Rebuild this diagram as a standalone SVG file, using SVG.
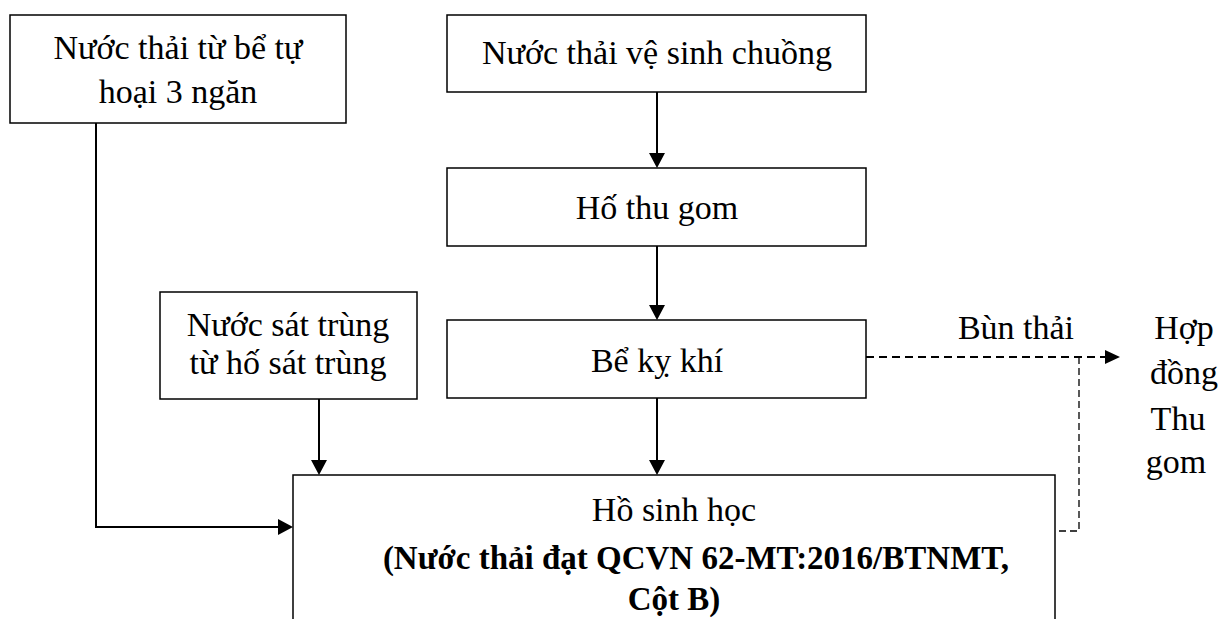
<svg xmlns="http://www.w3.org/2000/svg" width="1232" height="619" viewBox="0 0 1232 619">
<style>
.box{fill:#fff;stroke:#000;stroke-width:1.5}
.t{font-family:"Liberation Serif","Times New Roman",serif;font-size:34px;fill:#000;text-anchor:middle}
.b{font-weight:bold;font-size:33px}
.ln{fill:none;stroke:#000;stroke-width:2}
.d{fill:none;stroke:#000;stroke-width:2;stroke-dasharray:8,5}
.d2{fill:none;stroke:#000;stroke-width:1.3;stroke-dasharray:7,4}
</style>
<g id="connectors">
<path class="ln" d="M96,123 V527 H282" />
<path d="M278,519 L293,527 L278,535 z" fill="#000"/>
<path class="ln" d="M657,92 V155" />
<path d="M649,153 L657,168 L665,153 z" fill="#000"/>
<path class="ln" d="M657,246 V307" />
<path d="M649,305 L657,320 L665,305 z" fill="#000"/>
<path class="ln" d="M319,399 V462" />
<path d="M311,460 L319,475 L327,460 z" fill="#000"/>
<path class="ln" d="M657,398 V462" />
<path d="M649,460 L657,475 L665,460 z" fill="#000"/>
<path class="d" d="M866,357 H1106" />
<path d="M1105,350 L1120,357 L1105,364 z" fill="#000"/>
<path class="d2" d="M1079,357 V531 H1055" />
</g>
<g id="n1">
<rect class="box" x="10" y="15" width="336" height="108"/>
<text class="t" x="178" y="59">Nước thải từ bể tự</text>
<text class="t" x="178" y="103">hoại 3 ngăn</text>
</g>
<g id="n2">
<rect class="box" x="447" y="15" width="419" height="77"/>
<text class="t" x="657" y="64">Nước thải vệ sinh chuồng</text>
</g>
<g id="n3">
<rect class="box" x="447" y="168" width="419" height="78"/>
<text class="t" x="657" y="219">Hố thu gom</text>
</g>
<g id="n4">
<rect class="box" x="447" y="320" width="419" height="78"/>
<text class="t" x="657" y="372">Bể kỵ khí</text>
</g>
<g id="n5">
<rect class="box" x="160" y="292" width="257" height="107"/>
<text class="t" x="288" y="336">Nước sát trùng</text>
<text class="t" x="288" y="374">từ hố sát trùng</text>
</g>
<g id="n6">
<rect class="box" x="293" y="475" width="762" height="160"/>
<text class="t" x="674" y="521">Hồ sinh học</text>
<text class="t b" x="696" y="569">(Nước thải đạt QCVN 62-MT:2016/BTNMT,</text>
<text class="t b" x="674" y="610">Cột B)</text>
</g>
<g id="labels">
<text class="t" x="1016" y="339">Bùn thải</text>
</g>
<g id="n7">
<text class="t" x="1184" y="339">Hợp</text>
<text class="t" x="1184" y="384">đồng</text>
<text class="t" x="1178" y="430">Thu</text>
<text class="t" x="1176" y="473">gom</text>
</g>
</svg>
